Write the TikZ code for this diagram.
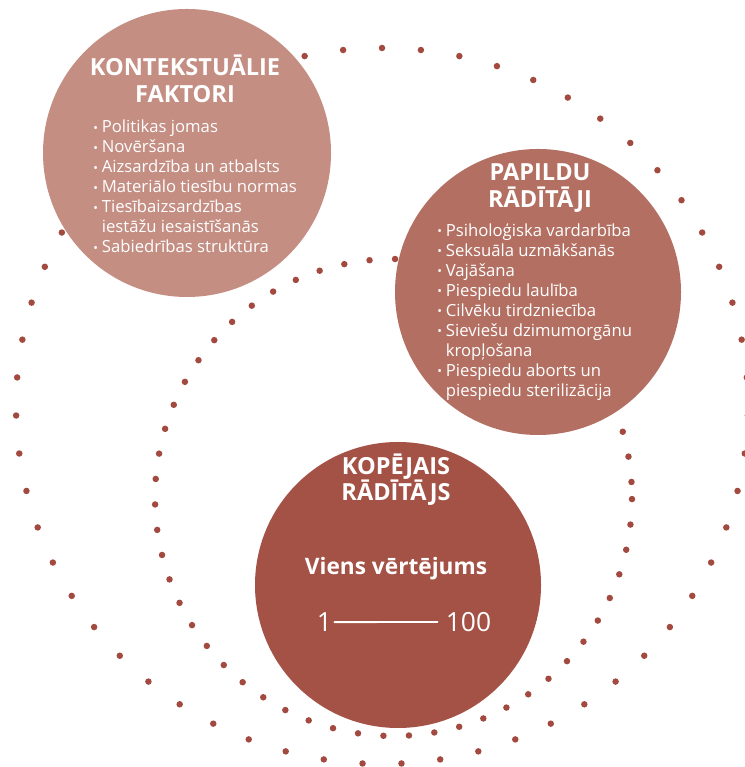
\documentclass[tikz,border=0pt]{standalone}
\usepackage{fontspec}
\setmainfont{Open Sans}
\usepackage{tikz}
\definecolor{ctxrose}{RGB}{196,142,131}
\definecolor{addrose}{RGB}{179,112,98}
\definecolor{cmprose}{RGB}{164,81,70}
\definecolor{dotred}{RGB}{163,74,64}
\newcommand{\bul}{\makebox[0.17cm][l]{\raisebox{0.5pt}{\fontsize{7}{7}\selectfont\textbullet}}}
\newcommand{\nobul}{\hspace*{0.17cm}}

\begin{document}
\begin{tikzpicture}[
		disc/.style = {circle, fill=#1, draw=none, inner sep=0pt},
		dot/.style = {fill=dotred},
		title/.style = {text=white, align=center, anchor=base, inner sep=0pt,
			font=\fontsize{13.4}{15.1}\selectfont\bfseries},
		items/.style = {text=white, align=left, anchor=base west, inner sep=0pt,
			font=\fontsize{9.5}{11.38}\selectfont},
		num/.style = {text=white, anchor=base, text depth=0pt, inner sep=0.04cm,
			font=\fontsize{15}{15}\selectfont},
		]
		\useasboundingbox (0,0) rectangle (14.88,15.34);
		\coordinate (outer) at (7.64,7.22);
		\coordinate (inner) at (7.87,5.39);
		\foreach \i in {0,...,58}
		{
			\fill[dot] (outer) ++({90+6.1017*\i}:7.32 and 7.16) circle (0.065);
			\fill[dot] (inner) ++({3.73+6.136*\i}:4.77) circle (0.065);
		};
		\node[disc=ctxrose, minimum size=5.76cm] (ctx) at (3.74,12.28) {};
		\node[disc=addrose, minimum size=5.72cm] (add) at (10.76,9.50) {};
		\node[disc=cmprose, minimum size=5.72cm] (cmp) at (7.96,3.64) {};
		\node[title] (ctxhead) at (3.70,13.29) {KONTEKSTUĀLIE\\FAKTORI};
		\node[items] (ctxlist) at (1.86,10.28) {\bul Politikas jomas\\
			\bul Novēršana\\
			\bul Aizsardzība un atbalsts\\
			\bul Materiālo tiesību normas\\
			\bul Tiesībaizsardzības\\
			\nobul iestāžu iesaistīšanās\\
			\bul Sabiedrības struktūra};
		\node[title] (addhead) at (10.80,11.19) {PAPILDU\\RĀDĪTĀJI};
		\node[items] (addlist) at (8.74,7.41) {\bul Psiholoģiska vardarbība\\
			\bul Seksuāla uzmākšanās\\
			\bul Vajāšana\\
			\bul Piespiedu laulība\\
			\bul Cilvēku tirdzniecība\\
			\bul Sieviešu dzimumorgānu\\
			\nobul kropļošana\\
			\bul Piespiedu aborts un\\
			\nobul piespiedu sterilizācija};
		\node[title] (cmphead) at (7.92,5.32) {KOPĒJAIS\\RĀDĪTĀJS};
		\node[title, font=\fontsize{12.9}{14}\selectfont\bfseries] (score) at (7.92,3.84) {Viens vērtējums};
		\node[num] (one) at (6.49,2.71) {1};
		\node[num] (hundred) at (9.37,2.71) {100};
		\draw[white, line width=1.1pt, line cap=round, shorten >=0.12cm] (one) -- (hundred);
	\end{tikzpicture}
\end{document}
